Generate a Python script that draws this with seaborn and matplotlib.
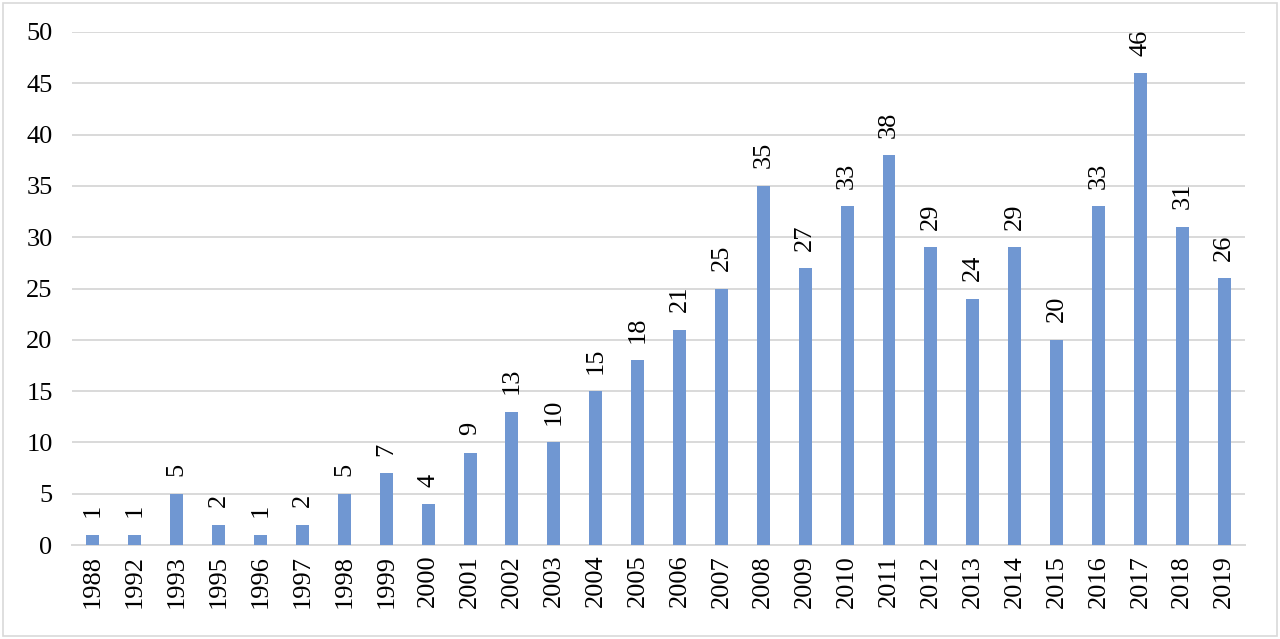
import pandas as pd
import seaborn as sns
import matplotlib.pyplot as plt
from matplotlib.patches import Rectangle

# Werte aus dem Diagramm
years = ['1988', '1992', '1993', '1995', '1996', '1997', '1998', '1999', '2000', '2001',
         '2002', '2003', '2004', '2005', '2006', '2007', '2008', '2009', '2010', '2011',
         '2012', '2013', '2014', '2015', '2016', '2017', '2018', '2019']
counts = [1, 1, 5, 2, 1, 2, 5, 7, 4, 9,
          13, 10, 15, 18, 21, 25, 35, 27, 33, 38,
          29, 24, 29, 20, 33, 46, 31, 26]
y_ticks = [0, 5, 10, 15, 20, 25, 30, 35, 40, 45, 50]

df = pd.DataFrame({'year': years, 'count': counts})

sns.set_style('white')
plt.rcParams['font.family'] = ['Liberation Serif', 'DejaVu Serif']
plt.rcParams['text.color'] = 'black'
plt.rcParams['xtick.color'] = 'black'
plt.rcParams['ytick.color'] = 'black'
FS = 19

fig = plt.figure(figsize=(12.8, 6.39), dpi=100)
ax = fig.add_axes([0.05625, 0.147, 0.9165, 0.803])

sns.barplot(data=df, x='year', y='count', color='#7097D2', width=0.31,
            saturation=1, linewidth=0, ax=ax, zorder=3)

# Werte über den Balken
for i, v in enumerate(counts):
    ax.text(i, v + 1.7, str(v), rotation=90, ha='center', va='bottom',
            fontsize=FS, color='black')

ax.set_ylim(0, 50)
ax.set_xlim(-0.5, len(years) - 0.5)
ax.set_yticks(y_ticks)
ax.set_yticklabels([str(t) for t in y_ticks], fontsize=FS)
ax.tick_params(axis='x', labelrotation=90, labelsize=FS, length=0, pad=7, labelcolor='black')
ax.tick_params(axis='y', length=0, pad=14, labelcolor='black')
ax.grid(axis='y', color='#d9d9d9', linewidth=1.4, zorder=0)
ax.set_xlabel('')
ax.set_ylabel('')
for s in ['top', 'right', 'left']:
    ax.spines[s].set_visible(False)
ax.spines['bottom'].set_color('#d9d9d9')
ax.spines['bottom'].set_linewidth(1.4)

# Rahmen um das Bild
fig.patches.append(Rectangle((0.002, 0.004), 0.996, 0.992, transform=fig.transFigure,
                             fill=False, edgecolor='#d9d9d9', linewidth=1.2))

fig.savefig('out.png', dpi=100)
